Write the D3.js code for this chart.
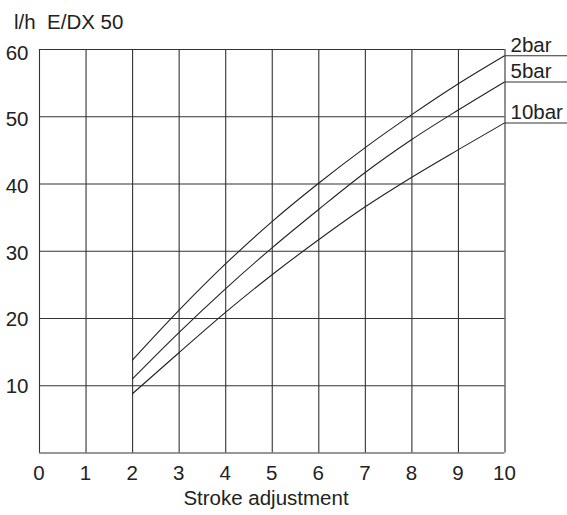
<!DOCTYPE html>
<html>
<head>
<meta charset="utf-8">
<script src="https://cdn.jsdelivr.net/npm/d3@7"></script>
<style>
  body { margin: 0; background: #fff; }
  svg { display: block; font-family: "Liberation Sans", Arial, sans-serif; }
  text { white-space: pre; }
</style>
</head>
<body>
<div id="chart"></div>
<script>
// stroke setting (x) vs. flow in l/h (y), one curve per back pressure
const strokes = [2, 3, 4, 5, 6, 7, 8, 9, 10];
const flow2bar = [13.7, 21.1, 28.0, 34.3, 40.0, 45.3, 50.2, 54.8, 59.0];
const flow5bar = [10.9, 17.8, 24.3, 30.4, 36.1, 41.6, 46.5, 50.9, 55.1];
const flow10bar = [8.7, 14.8, 20.8, 26.4, 31.6, 36.5, 40.9, 45.0, 49.0];
const seriesNames = ["2bar", "5bar", "10bar"];
const xTicks = [0, 1, 2, 3, 4, 5, 6, 7, 8, 9, 10];
const yTicks = [10, 20, 30, 40, 50, 60];

let width = 567,
    height = 515,
    margin = ({ top: 49, right: 62.5, bottom: 62.5, left: 39 });

const svg = d3.select("#chart")
  .append("svg")
  .attr("width", width)
  .attr("height", height);

let x = d3.scaleLinear()
  .domain([0, 10])
  .range([margin.left, width - margin.right]);

let y = d3.scaleLinear()
  .domain([0, 60])
  .range([height - margin.bottom, margin.top]);

// grid (tickSize spans the whole plot)
svg.append("g")
  .attr("transform", `translate(0,${height - margin.bottom})`)
  .call(d3.axisBottom(x).tickValues(xTicks).tickSize(-(height - margin.top - margin.bottom)).tickFormat(""))
  .call(g => g.select(".domain").remove())
  .call(g => g.selectAll("line").attr("stroke", "#333").attr("stroke-width", 1.1));

svg.append("g")
  .attr("transform", `translate(${margin.left},0)`)
  .call(d3.axisLeft(y).tickValues([0].concat(yTicks)).tickSize(-(width - margin.left - margin.right)).tickFormat(""))
  .call(g => g.select(".domain").remove())
  .call(g => g.selectAll("line").attr("stroke", "#333").attr("stroke-width", 1.1));

// tick labels
svg.append("g")
  .selectAll("text")
  .data(xTicks)
  .join("text")
  .attr("x", d => x(d))
  .attr("y", 480)
  .attr("text-anchor", "middle")
  .attr("font-size", 20.5)
  .attr("fill", "#222")
  .text(d => d);

svg.append("g")
  .selectAll("text")
  .data(yTicks)
  .join("text")
  .attr("x", 28.5)
  .attr("y", d => y(d) + 7.5 + (d - 10) / 15)
  .attr("text-anchor", "end")
  .attr("font-size", 20.5)
  .attr("fill", "#222")
  .text(d => d);

svg.append("text")
  .attr("x", 266)
  .attr("y", 505)
  .attr("text-anchor", "middle")
  .attr("font-size", 20.5)
  .attr("fill", "#222")
  .text("Stroke adjustment");

svg.append("text")
  .attr("x", 14)
  .attr("y", 29)
  .attr("font-size", 20.5)
  .attr("fill", "#222")
  .text("l/h  E/DX 50");

// curves
const allSeries = [flow2bar, flow5bar, flow10bar];
const line = d3.line()
  .x((d, i) => x(strokes[i]))
  .y(d => y(d))
  .curve(d3.curveMonotoneX);

svg.append("g")
  .selectAll("path")
  .data(allSeries)
  .join("path")
  .attr("d", d => line(d))
  .attr("fill", "none")
  .attr("stroke", "#222")
  .attr("stroke-width", 1.1);

// labels with leader lines to the right edge
const labels = svg.append("g")
  .selectAll("g")
  .data(allSeries)
  .join("g");

labels.append("line")
  .attr("x1", x(10))
  .attr("x2", width)
  .attr("y1", d => y(d[d.length - 1]))
  .attr("y2", d => y(d[d.length - 1]))
  .attr("stroke", "#333")
  .attr("stroke-width", 1.1);

labels.append("text")
  .attr("x", x(10) + 6)
  .attr("y", d => y(d[d.length - 1]) - 4)
  .attr("font-size", 20.5)
  .attr("fill", "#222")
  .text((d, i) => seriesNames[i]);
</script>
</body>
</html>
